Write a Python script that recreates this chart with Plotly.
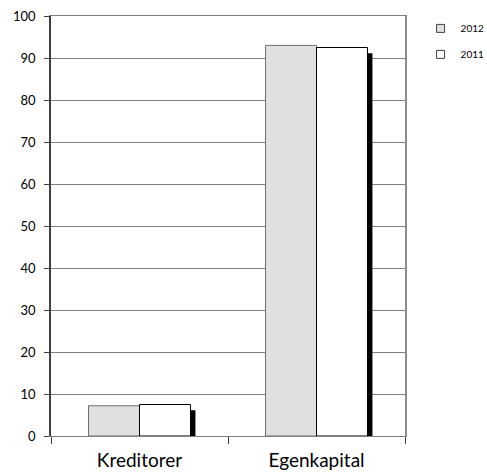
import plotly.graph_objects as go

categories = ["Kreditorer", "Egenkapital"]
series_names = ["2012", "2011"]
values_2012 = [7.2, 93.0]
values_2011 = [7.5, 92.5]
y_ticks = [0, 10, 20, 30, 40, 50, 60, 70, 80, 90, 100]

xpos = list(range(len(categories)))
bw = 0.288
sdx = 0.028   # shadow shift (data units)
sdy = 1.35    # shadow drop (data units)

fig = go.Figure()

# shadows
for vals, off in [(values_2012, -bw), (values_2011, 0.0)]:
    fig.add_trace(go.Bar(
        x=xpos, y=[v - sdy for v in vals], base=0, width=bw, offset=off + sdx,
        marker=dict(color="black", line=dict(width=0)),
        showlegend=False, hoverinfo="skip"))

fills = ["#e0e0e0", "white"]
borders = ["#6e6e6e", "black"]
for name, vals, off, fc, bc in zip(series_names, [values_2012, values_2011],
                                   [-bw, 0.0], fills, borders):
    fig.add_trace(go.Bar(
        x=xpos, y=vals, name=name, width=bw, offset=off,
        marker=dict(color=fc, line=dict(color=bc, width=1)),
        showlegend=False))
    # legend entry with small square symbol
    fig.add_trace(go.Scatter(
        x=[None], y=[None], mode="markers", name=name, legendgroup=name,
        marker=dict(symbol="square", size=8, color=fc,
                    line=dict(color="#404040", width=1)),
        hoverinfo="skip"))

fig.update_layout(
    width=487, height=474,
    margin=dict(l=51, r=82, t=16, b=38, autoexpand=False),
    paper_bgcolor="white", plot_bgcolor="white",
    barmode="overlay",
    font=dict(family="Lato, 'Open Sans', sans-serif", color="black"),
    showlegend=True,
    legend=dict(x=1.044, y=1.005, xanchor="left", yanchor="top",
                font=dict(size=10), tracegroupgap=7,
                itemwidth=30, bgcolor="rgba(0,0,0,0)"),
    xaxis=dict(
        range=[-0.5, 1.5], tickvals=xpos, ticktext=categories,
        ticks="", tickfont=dict(size=19), ticklabelstandoff=7,
        showgrid=False, zeroline=False, automargin=False,
        showline=True, linecolor="#808080", linewidth=1, mirror=True,
        minor=dict(tick0=0.5, dtick=1, ticks="outside", ticklen=7,
                   tickcolor="#404040", tickwidth=1, showgrid=False),
    ),
    yaxis=dict(
        range=[0, 100], tickvals=y_ticks, ticks="outside", ticklen=5,
        tickcolor="#404040", tickfont=dict(size=13), ticklabelstandoff=6,
        showgrid=True, gridcolor="#808080", gridwidth=1, zeroline=False,
        showline=True, linecolor="#404040", linewidth=1.5, automargin=False,
    ),
    yaxis2=dict(
        overlaying="y", side="right", range=[0, 100], showgrid=False,
        showticklabels=False, ticks="", showline=True, automargin=False,
        linecolor="#8c8c8c", linewidth=2, zeroline=False,
    ),
)
fig.add_trace(go.Scatter(x=[None], y=[None], yaxis="y2", showlegend=False,
                         hoverinfo="skip"))

fig.write_html("out.html", config={"displayModeBar": False},
               post_script="document.body.style.margin='0';document.body.style.padding='0';")
